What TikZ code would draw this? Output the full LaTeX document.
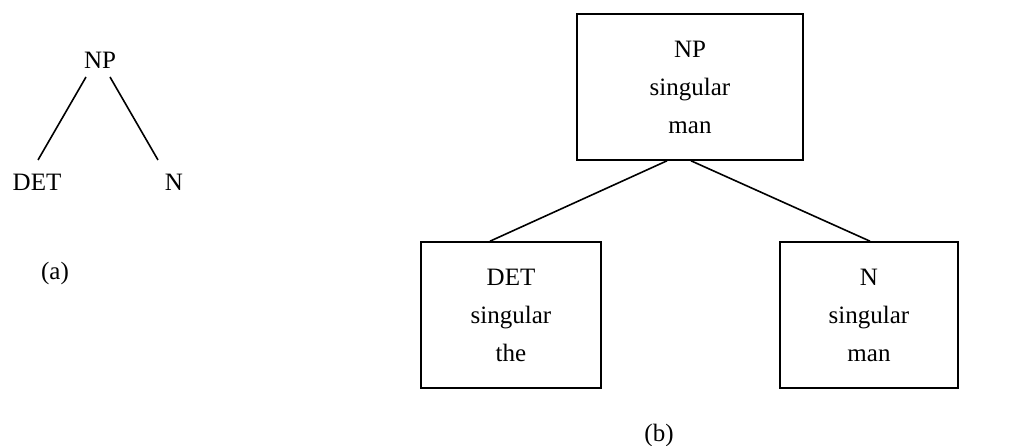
\documentclass[tikz,border=0pt]{standalone}
\usepackage{fontspec}
\setmainfont{Liberation Serif}
\usetikzlibrary{calc}
\begin{document}
\begin{tikzpicture}[x=1pt,y=-1pt,
  lbl/.style={font=\fontsize{25}{38}\selectfont, inner sep=0pt, anchor=base},
  featbox/.style={draw, line width=1.6pt, font=\fontsize{25}{38}\selectfont,
    align=center, minimum width=#1, minimum height=146pt, inner sep=0pt},
  branch/.style={line width=1.6pt}]
\useasboundingbox (0,0) rectangle (1011,446);

% (a) plain phrase-structure tree
\node[lbl] (npa)  at (100,68.6)  {NP};
\node[lbl] (deta) at (37,190.6)  {DET};
\node[lbl] (na)   at (174,190.6) {N};
\draw[branch] ($(npa.base)+(-14,8.4)$) -- ($(deta.base)+(1,-30.6)$);
\draw[branch] ($(npa.base)+(10,8.4)$)  -- ($(na.base)+(-16,-30.6)$);
\node[lbl] (capa) at (55,279.5) {(a)};

% (b) tree with feature boxes
\node[featbox=226pt] (npb)  at (690,87)  {NP\\singular\\man};
\node[featbox=180pt] (detb) at (511,315) {DET\\singular\\the};
\node[featbox=178pt] (nb)   at (869,315) {N\\singular\\man};
\draw[branch] ([xshift=-23pt]npb.south) -- ([xshift=-21pt]detb.north);
\draw[branch] ([xshift=1pt]npb.south)   -- ([xshift=1pt]nb.north);
\node[lbl] (capb) at (659,441.5) {(b)};
\end{tikzpicture}
\end{document}
